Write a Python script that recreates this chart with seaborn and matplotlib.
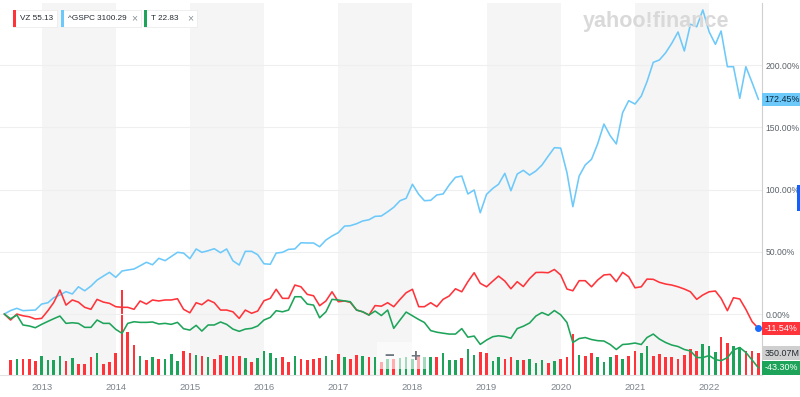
import numpy as np
import pandas as pd
import seaborn as sns
import matplotlib.pyplot as plt
import matplotlib.transforms as mtransforms
from matplotlib.patches import Rectangle

sns.set_style("white")
plt.rcParams['font.family'] = ['Liberation Sans', 'DejaVu Sans']

# monthly points, Jul 2012 - Sep 2022, % change since first month
months = pd.date_range('2012-07-01', periods=123, freq='MS')

vz_pct = [0, -4.8, 0.0, -1.4, -2.2, -4.0, -3.5, 2.7, 9.1, 19.3,
          7.2, 11.3, 9.6, 5.4, 3.8, 11.8, 9.6, 8.6, 5.9, 5.4,
          5.4, 3.8, 10.5, 8.0, 11.3, 10.5, 11.3, 11.3, 12.3, 3.8,
          1.0, 9.1, 7.5, 11.3, 9.1, 3.2, 3.2, 1.8, -3.5, 3.2,
          0.6, 2.4, 10.7, 12.6, 19.9, 12.6, 12.6, 23.3, 21.9, 15.8,
          14.7, 6.7, 10.5, 17.9, 9.9, 10.5, 9.4, 3.2, 1.8, -0.8,
          6.8, 6.3, 9.1, 5.9, 11.8, 17.1, 19.9, 5.9, 5.9, 9.1,
          5.9, 11.8, 14.5, 20.3, 17.9, 26.0, 33.2, 24.7, 21.9, 26.5,
          30.5, 26.5, 20.3, 26.0, 22.1, 28.5, 33.4, 33.5, 33.2, 35.8,
          31.4, 20.1, 18.7, 26.8, 26.8, 21.9, 27.3, 31.4, 31.9, 26.0,
          33.5, 30.0, 21.1, 21.9, 28.1, 27.9, 25.5, 24.1, 23.3, 21.9,
          20.1, 17.9, 11.8, 15.3, 17.9, 18.5, 12.6, 2.7, 13.1, 12.1,
          3.8, -6.2, -11.54]

gspc_pct = [0, 2.8, 4.6, 2.7, 3.0, 3.2, 8.0, 9.1, 13.1, 15.3,
            18.0, 16.1, 21.9, 18.7, 22.5, 27.3, 30.5, 33.5, 29.5, 34.6,
            35.4, 36.2, 38.8, 41.6, 39.6, 44.8, 42.9, 46.2, 49.6, 49.0,
            44.5, 52.3, 49.6, 50.9, 52.5, 49.3, 52.3, 42.8, 39.4, 50.4,
            50.4, 47.7, 40.4, 40.0, 49.0, 49.6, 52.0, 52.3, 57.3, 57.1,
            57.1, 54.1, 59.5, 62.7, 65.4, 70.7, 71.0, 72.6, 74.8, 75.8,
            78.5, 78.8, 82.2, 85.8, 91.1, 93.0, 104.3, 96.2, 91.1, 91.4,
            95.7, 96.5, 103.7, 109.9, 110.9, 96.5, 99.7, 81.4, 96.2, 101.0,
            104.3, 113.1, 99.1, 112.5, 115.5, 111.7, 115.0, 119.8, 127.0, 133.7,
            133.4, 113.6, 86.3, 110.9, 119.8, 124.4, 136.7, 152.7, 143.3, 136.7,
            161.8, 171.5, 168.8, 175.2, 186.7, 202.3, 204.2, 210.0, 217.6, 226.7,
            211.4, 232.9, 230.9, 244.4, 226.9, 216.8, 227.5, 198.8, 198.8, 173.4,
            198.8, 185.9, 172.45]

t_pct = [0, -3.8, -0.8, -8.8, -9.6, -11.0, -8.3, -5.9, -3.8, -1.6,
         -7.5, -7.0, -7.5, -10.7, -10.7, -4.8, -7.5, -7.5, -12.3, -15.5,
         -7.5, -6.2, -6.7, -6.7, -6.4, -8.0, -7.5, -8.3, -6.7, -11.8,
         -12.9, -9.1, -13.7, -8.8, -8.8, -6.4, -8.3, -12.1, -13.9, -12.1,
         -11.5, -9.6, -4.8, -2.7, 2.7, 1.8, 3.2, 13.9, 13.9, 8.0,
         7.2, -3.0, 1.8, 11.8, 11.3, 10.5, 9.9, 3.2, 1.8, -0.8,
         2.4, -1.2, 3.2, -11.5, -4.8, 1.6, -1.4, -4.4, -6.8, -13.3,
         -14.6, -15.4, -16.1, -16.1, -11.7, -18.6, -17.7, -24.4, -20.9, -18.2,
         -17.5, -18.1, -19.5, -11.7, -9.8, -7.2, -1.6, 1.2, -1.0, 2.8,
         -0.6, -6.8, -22.9, -19.7, -18.9, -20.5, -21.4, -21.7, -24.5, -28.5,
         -24.5, -24.1, -23.3, -24.5, -18.9, -16.1, -20.1, -22.9, -24.9, -26.1,
         -28.5, -29.7, -35.0, -35.0, -33.4, -36.6, -37.5, -35.1, -28.9, -26.9,
         -30.9, -37.0, -43.3]

# VZ volume (millions), Aug 2012 onwards; r = down month, g = up month
vol_m = [233, 249, 265, 265, 222, 302, 233, 233, 302, 217,
         276, 180, 180, 297, 361, 169, 212, 350, 1368, 687,
         485, 302, 244, 297, 249, 249, 334, 222, 393, 350,
         318, 305, 289, 251, 326, 299, 308, 305, 281, 206,
         273, 393, 350, 276, 289, 214, 305, 262, 233, 257,
         270, 308, 233, 340, 297, 265, 321, 305, 289, 297,
         209, 257, 260, 273, 297, 257, 313, 286, 297, 297,
         350, 244, 244, 270, 421, 315, 366, 358, 222, 286,
         254, 286, 244, 244, 254, 190, 233, 190, 222, 257,
         297, 662, 329, 308, 361, 286, 214, 297, 318, 265,
         308, 382, 350, 458, 308, 340, 297, 297, 265, 321,
         422, 379, 501, 471, 363, 610, 511, 466, 450, 385,
         393, 350.07]
vol_dir = ("rgrrrggggr" "grrrgrrrrr" "rgrgrgggrr" "grgrrgrrgr"
           "ggggrrgrrr" "rggrgrrgrg" "rgrgggrggr" "gggrggrrgg"
           "rrgrgggrgr" "rrgrrgggrg" "rrggrrrrrr" "rrgggrrggr" "rr")

symbols = ['VZ', '^GSPC', 'T']
last_prices = ['55.13', '3100.29', '22.83']
year_ticks = list(range(2013, 2023))
pct_ticks = [0, 50, 100, 150, 200]

RED = '#ff333a'
BLUE = '#6cc9fa'
GREEN = '#1ea45a'
palette = {'VZ': RED, '^GSPC': BLUE, 'T': GREEN}

df = pd.DataFrame({
    'Date': np.tile(months, 3),
    'Change': vz_pct + gspc_pct + t_pct,
    'Symbol': ['VZ'] * 123 + ['^GSPC'] * 123 + ['T'] * 123,
})

fig = plt.figure(figsize=(8, 3.97), dpi=100)
rect = [0, 22 / 397, 761.5 / 800, 372 / 397]
ax_vol = fig.add_axes(rect)
ax = fig.add_axes(rect, sharex=ax_vol)
ax.patch.set_visible(False)

# alternating year shading
for y in year_ticks[::2]:
    ax_vol.axvspan(pd.Timestamp(f'{y}-01-01'), pd.Timestamp(f'{y + 1}-01-01'),
                   color='#f5f5f5', lw=0)

bar_colors = [RED if c == 'r' else GREEN for c in vol_dir]
ax_vol.bar(months[1:], vol_m, width=13, color=bar_colors, lw=0)
ax_vol.set_ylim(0, 5975)
ax_vol.set_axis_off()

for v in pct_ticks:
    ax.axhline(v, color='#efefef', lw=0.8, zorder=0)

sns.lineplot(data=df, x='Date', y='Change', hue='Symbol', hue_order=['^GSPC', 'VZ', 'T'],
             palette=palette, linewidth=1.15, legend=False, ax=ax)

ax.set_xlim(pd.Timestamp('2012-06-10'), pd.Timestamp('2022-09-16'))
ax.set_ylim(-49, 250)
ax.set_xlabel('')
ax.set_ylabel('')
ax.set_xticks([pd.Timestamp(f'{y}-01-01') for y in year_ticks])
ax.set_xticklabels([str(y) for y in year_ticks])
ax.yaxis.tick_right()
ax.set_yticks(pct_ticks)
ax.set_yticklabels([f'{v:.2f}%' for v in pct_ticks])
ax.tick_params(axis='y', length=0, pad=3, labelsize=6.2, labelcolor='#5b636a')
ax.tick_params(axis='x', length=4, width=0.8, color='#d8d8d8', pad=2,
               labelsize=6.8, labelcolor='#7b838b')
for s in ['top', 'left']:
    ax.spines[s].set_visible(False)
ax.spines['bottom'].set_color('#e2e2e2')
ax.spines['right'].set_color('#cfcfcf')
ax.spines['bottom'].set_linewidth(0.8)
ax.spines['right'].set_linewidth(0.8)

# end-value tags on the right
trans = mtransforms.blended_transform_factory(ax.transAxes, ax.transData)
tags = [(gspc_pct[-1], f'{gspc_pct[-1]:.2f}%', BLUE, '#0b2a3f'),
        (vz_pct[-1], f'{vz_pct[-1]:.2f}%', RED, 'white'),
        (t_pct[-1], f'{t_pct[-1]:.2f}%', GREEN, 'white')]
for val, txt, fc, tc in tags:
    ax.text(1.004, val, txt, transform=trans, ha='left', va='center', fontsize=6.4,
            color=tc, clip_on=False, zorder=6,
            bbox=dict(boxstyle='square,pad=0.25', fc=fc, ec='none'))
vtrans = mtransforms.blended_transform_factory(ax_vol.transAxes, ax_vol.transData)
ax_vol.text(1.004, vol_m[-1], f'{vol_m[-1]:.2f}M', transform=vtrans, ha='left', va='center',
            fontsize=6.4, color='#232a31', clip_on=False,
            bbox=dict(boxstyle='square,pad=0.25', fc='#cfcfcf', ec='none'))

ax.scatter(months[-1], vz_pct[-1], s=16, color='#1a6cff', zorder=7, clip_on=False)

# legend chips
chip_x = [(13, 57), (61, 141), (144, 197)]
for (x0, x1), sym, price in zip(chip_x, symbols, last_prices):
    fig.patches.append(Rectangle((x0 / 800, 1 - 27 / 397), (x1 - x0) / 800, 17 / 397,
                                 transform=fig.transFigure, fc='white', ec='#ececec', lw=0.6))
    fig.patches.append(Rectangle((x0 / 800, 1 - 27 / 397), 2.5 / 800, 17 / 397,
                                 transform=fig.transFigure, fc=palette[sym], ec='none'))
    fig.text((x0 + 7) / 800, 1 - 18.5 / 397, f'{sym} {price}', fontsize=5.9,
             color='#232a31', va='center', ha='left')
    if sym != 'VZ':
        fig.text((x1 - 7) / 800, 1 - 18.5 / 397, '×', fontsize=7.5,
                 color='#8a9299', va='center', ha='center')

# watermark, zoom control, side tab
fig.text(656 / 800, 1 - 22 / 397, 'yahoo!finance', ha='center', va='center',
         fontsize=15.5, fontweight='bold', color='#d9d9d9')
fig.patches.append(Rectangle((377 / 800, 1 - 369 / 397), 52 / 800, 27 / 397,
                             transform=fig.transFigure, fc='white', ec='none', alpha=0.6))
fig.text(389 / 800, 1 - 356 / 397, '−', fontsize=12, fontweight='bold',
         color='#6e7780', ha='center', va='center')
fig.text(415 / 800, 1 - 356 / 397, '+', fontsize=12, fontweight='bold',
         color='#6e7780', ha='center', va='center')
fig.patches.append(Rectangle((796.5 / 800, 1 - 211 / 397), 3.5 / 800, 26 / 397,
                             transform=fig.transFigure, fc='#1261ff', ec='none'))

fig.savefig('out.png', dpi=100)
